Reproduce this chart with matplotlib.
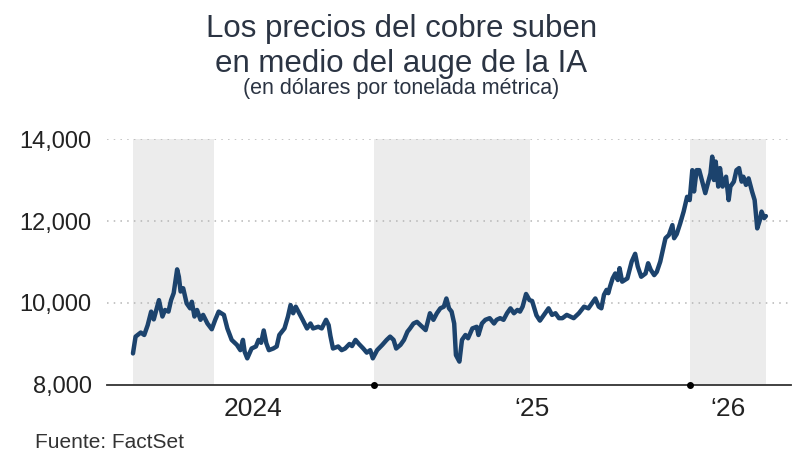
import matplotlib
matplotlib.use("Agg")
import matplotlib.pyplot as plt
import pandas as pd

# copper price, USD per metric ton
dates = [
    "2024-03-29", "2024-04-01", "2024-04-07", "2024-04-11", "2024-04-15", "2024-04-19",
    "2024-04-22", "2024-04-28", "2024-05-02", "2024-05-05", "2024-05-09", "2024-05-12",
    "2024-05-15", "2024-05-19", "2024-05-21", "2024-05-23", "2024-05-26", "2024-05-30",
    "2024-06-03", "2024-06-05", "2024-06-08", "2024-06-11", "2024-06-15", "2024-06-18",
    "2024-06-23", "2024-06-28", "2024-07-02", "2024-07-06", "2024-07-12", "2024-07-16",
    "2024-07-21", "2024-07-27", "2024-07-31", "2024-08-03", "2024-08-05", "2024-08-08",
    "2024-08-13", "2024-08-18", "2024-08-21", "2024-08-24", "2024-08-27", "2024-08-30",
    "2024-09-02", "2024-09-07", "2024-09-11", "2024-09-14", "2024-09-20", "2024-09-24",
    "2024-09-27", "2024-09-30", "2024-10-03", "2024-10-08", "2024-10-11", "2024-10-16",
    "2024-10-20", "2024-10-23", "2024-10-29", "2024-11-02", "2024-11-07", "2024-11-10",
    "2024-11-12", "2024-11-15", "2024-11-21", "2024-11-25", "2024-11-29", "2024-12-04",
    "2024-12-07", "2024-12-11", "2024-12-15", "2024-12-20", "2024-12-24", "2024-12-28",
    "2024-12-31", "2025-01-05", "2025-01-11", "2025-01-16", "2025-01-20", "2025-01-24",
    "2025-01-27", "2025-02-01", "2025-02-05", "2025-02-09", "2025-02-12", "2025-02-16",
    "2025-02-20", "2025-02-24", "2025-03-02", "2025-03-07", "2025-03-11", "2025-03-15",
    "2025-03-19", "2025-03-23", "2025-03-26", "2025-03-29", "2025-04-01", "2025-04-04",
    "2025-04-06", "2025-04-10", "2025-04-13", "2025-04-17", "2025-04-20", "2025-04-25",
    "2025-04-30", "2025-05-02", "2025-05-06", "2025-05-10", "2025-05-15", "2025-05-20",
    "2025-05-23", "2025-05-27", "2025-05-31", "2025-06-04", "2025-06-08", "2025-06-12",
    "2025-06-16", "2025-06-19", "2025-06-22", "2025-06-26", "2025-06-30", "2025-07-03",
    "2025-07-08", "2025-07-12", "2025-07-18", "2025-07-22", "2025-07-26", "2025-07-30",
    "2025-08-03", "2025-08-07", "2025-08-12", "2025-08-16", "2025-08-20", "2025-08-26",
    "2025-09-01", "2025-09-06", "2025-09-10", "2025-09-14", "2025-09-18", "2025-09-21",
    "2025-09-24", "2025-09-27", "2025-09-29", "2025-10-01", "2025-10-04", "2025-10-07",
    "2025-10-10", "2025-10-12", "2025-10-15", "2025-10-21", "2025-10-26", "2025-10-30",
    "2025-11-02", "2025-11-06", "2025-11-11", "2025-11-14", "2025-11-17", "2025-11-21",
    "2025-11-24", "2025-11-28", "2025-12-01", "2025-12-04", "2025-12-08", "2025-12-12",
    "2025-12-14", "2025-12-17", "2025-12-21", "2025-12-25", "2025-12-29", "2026-01-01",
    "2026-01-04", "2026-01-06", "2026-01-09", "2026-01-12", "2026-01-15", "2026-01-19",
    "2026-01-23", "2026-01-25", "2026-01-27", "2026-01-29", "2026-01-31", "2026-02-03",
    "2026-02-05", "2026-02-08", "2026-02-12", "2026-02-15", "2026-02-17", "2026-02-21",
    "2026-02-24", "2026-02-27", "2026-03-02", "2026-03-04", "2026-03-07", "2026-03-10",
    "2026-03-14", "2026-03-17", "2026-03-20", "2026-03-23", "2026-03-25", "2026-03-28",
    "2026-03-30",
]
prices = [
    8770, 9180, 9280, 9220, 9460, 9790,
    9600, 10070, 9670, 9830, 9790, 10070,
    10240, 10820, 10640, 10280, 10360, 9990,
    9870, 10030, 9670, 9830, 9590, 9710,
    9500, 9360, 9590, 9790, 9710, 9380,
    9100, 8980, 8850, 9100, 8810, 8650,
    8890, 8940, 9100, 9030, 9330, 9020,
    8850, 8890, 8940, 9220, 9380, 9670,
    9950, 9750, 9910, 9710, 9590, 9380,
    9500, 9380, 9420, 9380, 9590, 9460,
    9200, 8890, 8940, 8850, 8890, 9000,
    8950, 9100, 9000, 8890, 8790, 8850,
    8650, 8850, 8980, 9100, 9180, 9100,
    8890, 8980, 9100, 9300, 9380, 9500,
    9540, 9460, 9340, 9750, 9590, 9750,
    9870, 9910, 10110, 9870, 9790, 9500,
    8730, 8570, 9100, 9220, 9140, 9380,
    9420, 9220, 9500, 9590, 9630, 9500,
    9590, 9630, 9590, 9750, 9870, 9750,
    9830, 9790, 9910, 10220, 10070, 10050,
    9700, 9570, 9750, 9870, 9710, 9750,
    9630, 9630, 9710, 9670, 9630, 9750,
    9910, 9870, 9990, 10110, 9910, 9870,
    10200, 10320, 10240, 10400, 10600, 10720,
    10560, 10850, 10520, 10600, 11010, 11200,
    10890, 10640, 10720, 10970, 10810, 10680,
    10760, 11010, 11290, 11580, 11660, 11900,
    11580, 11680, 11940, 12230, 12590, 12510,
    13240, 12720, 13240, 13240, 13000, 12680,
    13000, 13160, 13570, 13000, 13450, 12840,
    13290, 12840, 13080, 12510, 12840, 12960,
    13240, 13290, 12960, 13080, 12880, 13040,
    12720, 12510, 11820, 12020, 12230, 12070,
    12120,
]

years = [2024, 2025, 2026]
year_labels = ["2024", "\u201825", "\u201826"]
y_ticks = [8000, 10000, 12000, 14000]

dt = pd.to_datetime(dates)
first, last = dt[0], dt[-1]

fig = plt.figure(figsize=(8.04, 4.59), dpi=100)
ax = fig.add_axes([107 / 804, 1 - 385 / 459, (791 - 107) / 804, (385 - 139) / 459])

# grey band for the first half of each year, clipped to the data range
for yr in years:
    s = max(pd.Timestamp(f"{yr}-01-01"), first)
    e = min(pd.Timestamp(f"{yr}-07-01"), last)
    if s < e:
        ax.axvspan(s, e, color="#ececec", lw=0, zorder=0)

for v in y_ticks[1:]:
    ax.axhline(v, color="#b5b5b5", lw=1.1, ls=(0, (1, 3.4)), zorder=1)

ax.plot(dt, prices, color="#1c436d", lw=3.2, solid_joinstyle="round",
        solid_capstyle="round", zorder=3)

ax.set_ylim(8000, 14000)
ax.set_xlim(pd.Timestamp("2024-02-28"), pd.Timestamp("2026-04-28"))

for side in ["top", "right", "left"]:
    ax.spines[side].set_visible(False)
ax.spines["bottom"].set_color("#333333")
ax.spines["bottom"].set_linewidth(1.3)
ax.spines["bottom"].set_zorder(4)

# year boundary dots on the baseline
bounds = [pd.Timestamp(f"{yr}-01-01") for yr in years[1:]]
ax.plot(bounds, [8000] * len(bounds), "o", color="black", ms=4,
        clip_on=False, zorder=5)

# year labels centred on each year's visible span
edges = [first] + bounds + [last]
centers = [edges[i] + (edges[i + 1] - edges[i]) / 2 for i in range(len(years))]
ax.set_xticks(centers)
ax.set_xticklabels(year_labels)
ax.tick_params(axis="x", length=0, pad=9, labelsize=19, labelcolor="#222222")

ax.set_yticks(y_ticks)
ax.set_yticklabels([f"{v:,}" for v in y_ticks])
ax.tick_params(axis="y", length=0, pad=11, labelsize=17, labelcolor="#222222")

for lab in ax.get_xticklabels() + ax.get_yticklabels():
    lab.set_family(["Liberation Sans", "DejaVu Sans"])

title_font = ["Liberation Sans", "DejaVu Sans"]
fig.text(0.499, 1 - 37 / 459, "Los precios del cobre suben", ha="center",
         va="baseline", fontsize=22.5, color="#2b3443", family=title_font)
fig.text(0.499, 1 - 72 / 459, "en medio del auge de la IA", ha="center",
         va="baseline", fontsize=22.5, color="#2b3443", family=title_font)
fig.text(0.499, 1 - 94 / 459, "(en dólares por tonelada métrica)", ha="center",
         va="baseline", fontsize=15.5, color="#2b3443", family=title_font)
fig.text(35 / 804, 1 - 448 / 459, "Fuente: FactSet", ha="left", va="baseline",
         fontsize=15, color="#333333", family=title_font)

fig.savefig("out.png", dpi=100)
